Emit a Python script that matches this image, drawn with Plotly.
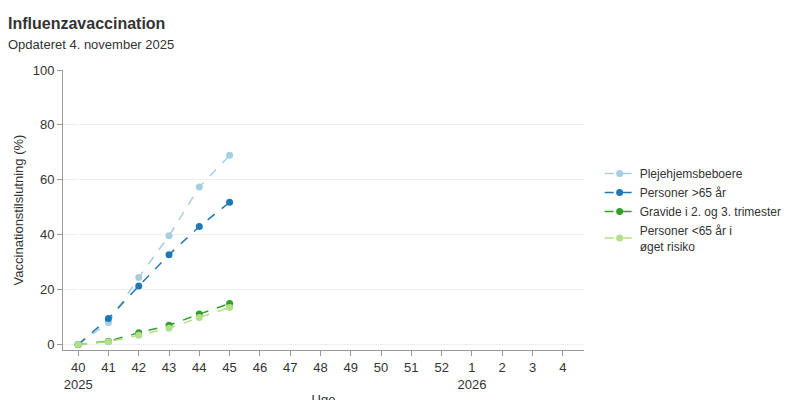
import plotly.graph_objects as go

weeks = ["40", "41", "42", "43", "44", "45", "46", "47", "48", "49", "50", "51", "52", "1", "2", "3", "4"]
tick_labels = ["40<br>2025"] + weeks[1:13] + ["1<br>2026"] + weeks[14:]

series_names = ["Plejehjemsbeboere", "Personer >65 år", "Gravide i 2. og 3. trimester", "Personer <65 år i<br>øget risiko"]
plejehjem = [0, 8.0, 24.4, 39.6, 57.4, 68.9]
over65 = [0, 9.5, 21.3, 32.7, 43.0, 51.8]
gravide = [0, 1.2, 4.3, 7.0, 11.1, 14.9]
under65 = [0, 1.0, 3.4, 5.9, 9.8, 13.5]
colors = ["#a6cee3", "#1f78b4", "#33a02c", "#b2df8a"]

fig = go.Figure()
for name, vals, col in zip(series_names, [plejehjem, over65, gravide, under65], colors):
    fig.add_trace(go.Scatter(x=list(range(len(vals))), y=vals, name=name, mode="lines+markers",
                             line=dict(color=col, dash="dash", width=1.5),
                             marker=dict(color=col, size=7)))

fig.add_annotation(text="<b>Influenzavaccination</b>", xref="paper", yref="paper", x=0, y=1,
                   xshift=-57, yshift=57, xanchor="left", yanchor="top", showarrow=False,
                   font=dict(size=16, color="#333"))
fig.add_annotation(text="Opdateret 4. november 2025", xref="paper", yref="paper", x=0, y=1,
                   xshift=-57, yshift=35, xanchor="left", yanchor="top", showarrow=False,
                   font=dict(size=13, color="#333"))

fig.update_layout(
    width=800, height=400, plot_bgcolor="white", paper_bgcolor="white",
    font=dict(family="Liberation Sans, Arial", size=13, color="#333"),
    margin=dict(l=55, r=224, t=62, b=58, autoexpand=False),
    legend=dict(x=1.03, y=0.5, yanchor="middle", font=dict(size=12), tracegroupgap=6),
    xaxis=dict(range=[-0.5, 16.7], tickvals=list(range(len(weeks))), ticktext=tick_labels,
               showgrid=False, showline=True, linecolor="#999", ticks="outside", ticklen=5,
               tickcolor="#999", title=dict(text="Uge", standoff=4, font=dict(size=13)), tickangle=0),
    yaxis=dict(range=[-2, 100], tickvals=[0, 20, 40, 60, 80, 100], showgrid=True, gridcolor="#eee",
               showline=True, linecolor="#999", ticks="outside", ticklen=5, tickcolor="#999",
               zeroline=False, title=dict(text="Vaccinationstilslutning (%)", font=dict(size=13), standoff=6)),
)
fig.write_html("out.html")
